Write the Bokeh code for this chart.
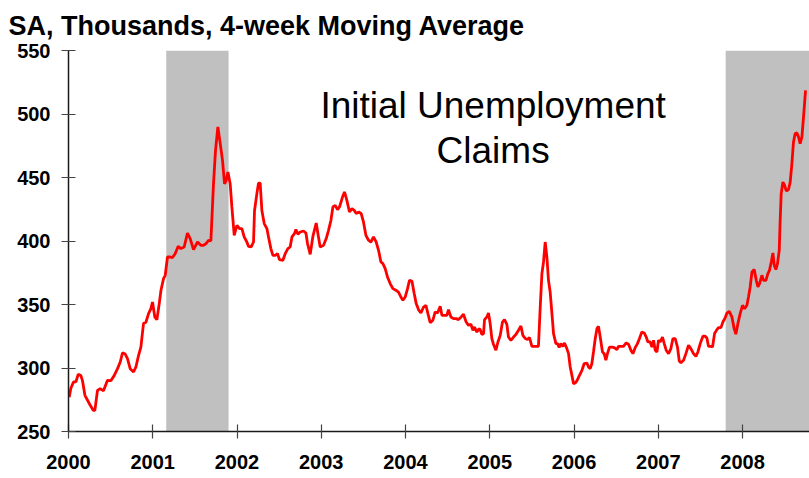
from bokeh.plotting import figure
from bokeh.models import FixedTicker, Label, Range1d, Title
from bokeh.embed import file_html
from bokeh.resources import INLINE

# ---------------- data ----------------
week_year = [
    2000.008, 2000.028, 2000.059, 2000.088, 2000.115, 2000.147, 2000.166, 2000.195, 2000.226, 2000.258,
    2000.293, 2000.313, 2000.344, 2000.376, 2000.415, 2000.463, 2000.503, 2000.542, 2000.582, 2000.614,
    2000.641, 2000.673, 2000.700, 2000.732, 2000.772, 2000.800, 2000.827, 2000.859, 2000.890, 2000.919,
    2000.950, 2000.978, 2000.997, 2001.025, 2001.049, 2001.077, 2001.097, 2001.128, 2001.148, 2001.175,
    2001.207, 2001.234, 2001.266, 2001.302, 2001.334, 2001.373, 2001.412, 2001.444, 2001.484, 2001.531,
    2001.571, 2001.602, 2001.634, 2001.662, 2001.690, 2001.721, 2001.745, 2001.773, 2001.801, 2001.828,
    2001.852, 2001.872, 2001.892, 2001.919, 2001.939, 2001.967, 2001.999, 2002.030, 2002.058, 2002.085,
    2002.117, 2002.136, 2002.168, 2002.196, 2002.208, 2002.236, 2002.255, 2002.275, 2002.295, 2002.323,
    2002.355, 2002.374, 2002.402, 2002.426, 2002.453, 2002.481, 2002.504, 2002.545, 2002.572, 2002.604,
    2002.631, 2002.652, 2002.682, 2002.699, 2002.723, 2002.750, 2002.789, 2002.818, 2002.837, 2002.869,
    2002.901, 2002.940, 2002.967, 2002.987, 2003.027, 2003.059, 2003.086, 2003.115, 2003.138, 2003.166,
    2003.193, 2003.217, 2003.252, 2003.276, 2003.304, 2003.335, 2003.364, 2003.391, 2003.415, 2003.442,
    2003.474, 2003.501, 2003.530, 2003.561, 2003.589, 2003.620, 2003.652, 2003.680, 2003.708, 2003.732,
    2003.759, 2003.786, 2003.818, 2003.850, 2003.886, 2003.917, 2003.945, 2003.969, 2003.996, 2004.024,
    2004.047, 2004.076, 2004.103, 2004.127, 2004.154, 2004.183, 2004.214, 2004.242, 2004.266, 2004.293,
    2004.325, 2004.352, 2004.380, 2004.412, 2004.432, 2004.459, 2004.491, 2004.510, 2004.539, 2004.570,
    2004.602, 2004.629, 2004.661, 2004.688, 2004.720, 2004.748, 2004.776, 2004.800, 2004.819, 2004.847,
    2004.875, 2004.887, 2004.907, 2004.926, 2004.938, 2004.966, 2004.985, 2005.005, 2005.025, 2005.044,
    2005.073, 2005.097, 2005.124, 2005.151, 2005.175, 2005.203, 2005.222, 2005.251, 2005.282, 2005.310,
    2005.341, 2005.370, 2005.393, 2005.421, 2005.448, 2005.472, 2005.500, 2005.539, 2005.578, 2005.599,
    2005.619, 2005.638, 2005.658, 2005.678, 2005.697, 2005.717, 2005.738, 2005.757, 2005.785, 2005.804,
    2005.824, 2005.844, 2005.868, 2005.887, 2005.915, 2005.935, 2005.955, 2005.975, 2005.994, 2006.014,
    2006.034, 2006.065, 2006.094, 2006.121, 2006.153, 2006.172, 2006.192, 2006.212, 2006.231, 2006.252,
    2006.272, 2006.291, 2006.311, 2006.338, 2006.358, 2006.378, 2006.397, 2006.421, 2006.450, 2006.477,
    2006.509, 2006.528, 2006.557, 2006.587, 2006.619, 2006.647, 2006.675, 2006.699, 2006.726, 2006.753,
    2006.777, 2006.805, 2006.833, 2006.857, 2006.877, 2006.904, 2006.925, 2006.944, 2006.964, 2006.984,
    2007.003, 2007.023, 2007.050, 2007.071, 2007.094, 2007.122, 2007.150, 2007.174, 2007.201, 2007.228,
    2007.249, 2007.269, 2007.300, 2007.328, 2007.359, 2007.387, 2007.418, 2007.447, 2007.470, 2007.498,
    2007.530, 2007.557, 2007.577, 2007.596, 2007.625, 2007.644, 2007.668, 2007.696, 2007.715, 2007.744,
    2007.767, 2007.795, 2007.815, 2007.842, 2007.874, 2007.901, 2007.921, 2007.945, 2007.972, 2008.000,
    2008.024, 2008.052, 2008.071, 2008.091, 2008.112, 2008.139, 2008.163, 2008.183, 2008.202, 2008.230,
    2008.249, 2008.278, 2008.301, 2008.320, 2008.341, 2008.361, 2008.376, 2008.396, 2008.415, 2008.436,
    2008.447, 2008.459, 2008.479, 2008.499, 2008.519, 2008.546, 2008.566, 2008.586, 2008.605, 2008.625,
    2008.646, 2008.665, 2008.684, 2008.705, 2008.724, 2008.748,
]

claims_4wk = [
    277, 284, 289, 289, 295, 294, 290, 278.5, 274.6, 270.6,
    266.7, 266.7, 282.4, 283.8, 282, 290.3, 290, 294, 299.5, 304.7,
    312, 311, 307.4, 299.5, 296.9, 300.8, 308.7, 316.5, 335, 336,
    342.8, 346.8, 352, 340, 338, 350.7, 361, 370.4, 373, 387.4,
    387.4, 387, 390, 395.8, 394, 395.3, 406.3, 401.9, 393.2, 399.2,
    396.6, 396.6, 398, 400.5, 400, 445, 471.4, 489.8, 476.7, 463.5,
    445, 447.8, 454.3, 445, 426.8, 404.5, 412.4, 409.8, 409.8, 403.2,
    399.2, 395.8, 395.3, 399.2, 424, 437.3, 445.6, 445.6, 424, 413.7,
    409.8, 403.2, 394, 388.7, 388.7, 390, 385.3, 384.8, 390, 394,
    395.3, 403.2, 405.8, 409, 405.3, 407.1, 407.9, 406.3, 398, 389.5,
    403.7, 414.2, 403.2, 395.3, 396.6, 401.9, 408.4, 416.3, 426.8, 428.1,
    424.7, 426.8, 434.6, 438.6, 432, 422.8, 425.5, 424.2, 421.6, 422.8,
    421.6, 415, 404.5, 400.6, 399.2, 403.2, 399.2, 392.7, 383.5, 382.2,
    378.3, 371.7, 366.5, 362.5, 361.2, 359.8, 355.9, 353.3, 355.9, 362.5,
    369, 368.5, 358.6, 350.7, 346, 343.3, 348, 349.4, 342.8, 335.7,
    337.6, 344.1, 343.3, 348.6, 341.5, 341.5, 341.5, 346, 340.2, 338.9,
    338.9, 338.1, 340.2, 342.3, 336.2, 333.6, 334.4, 329.7, 332.3, 328.3,
    331, 330.2, 326.3, 327.1, 338.1, 340.2, 343.3, 335, 323.2, 318.7,
    314, 320.5, 325.7, 336.2, 338.1, 334.4, 324.4, 321.8, 324.4, 326.3,
    329.7, 333.1, 325.7, 323.2, 322.4, 324, 317.1, 317.1, 317.1, 348,
    374.3, 383.5, 399.2, 387.4, 369, 359.8, 342.8, 327.1, 319.2, 319.2,
    316.1, 319.2, 317.1, 319.7, 315.3, 311.3, 300.8, 294.2, 287.7, 288.2,
    289.8, 294.2, 298.2, 303.5, 303.9, 300.8, 299.5, 303.5, 312.6, 323.2,
    331, 332.8, 324.4, 312.6, 311.3, 306.1, 311.3, 316.5, 316.5, 316,
    314.5, 317.1, 317.1, 317.1, 319.7, 318.7, 314, 311.3, 316, 319.2,
    323.2, 328.3, 327.6, 324.4, 320.5, 320.5, 316.5, 321.8, 314, 312.6,
    321.8, 320.5, 324.4, 319.2, 314, 311.3, 315.3, 323.2, 323.2, 316.5,
    305.5, 304.2, 306.1, 311.3, 317.9, 315.3, 311.3, 309.2, 312.6, 319.2,
    325, 325, 323.6, 317.1, 317.1, 316.5, 327.1, 330.2, 331.8, 331.8,
    336.2, 339.7, 343.3, 344.6, 340.2, 331, 326.6, 334.9, 342.8, 349.4,
    346.7, 349.4, 355.9, 363.8, 375.6, 377.5, 369, 363.8, 366.5, 373,
    369, 369, 374.3, 376.9, 383.5, 390.6, 380.9, 377.5, 382.2, 392.7,
    416.3, 437.3, 446.4, 443.9, 439.4, 440.5, 446.4, 461, 478, 484.6,
    485.1, 481.9, 476.7, 481.9, 497.6, 518.6,
]

recession_start = [2001.16, 2007.80]
recession_end = [2001.90, 2008.85]
recession_low = [250, 250]
recession_high = [550, 550]

year_ticks = [2000, 2001, 2002, 2003, 2004, 2005, 2006, 2007, 2008]
year_labels = ["2000", "2001", "2002", "2003", "2004", "2005", "2006", "2007", "2008"]
value_ticks = [250, 300, 350, 400, 450, 500, 550]

title_text = "SA, Thousands, 4-week Moving Average"
note_lines = ["Initial Unemployment", "Claims"]

n = min(len(week_year), len(claims_4wk))

# ---------------- figure ----------------
FONT = "Liberation Sans"
p = figure(width=809, height=478, output_backend="svg", toolbar_location=None,
           x_range=Range1d(2000, 2008.795), y_range=Range1d(250, 550),
           min_border_left=68, min_border_right=0, min_border_top=50, min_border_bottom=47,
           title=None)
p.background_fill_color = "white"
p.border_fill_color = "white"
p.outline_line_color = None
p.xgrid.visible = False
p.ygrid.visible = False

ttl = Title(text=title_text, align="left", offset=-60, standoff=16, vertical_align="top",
            text_font=FONT, text_font_style="bold", text_font_size="27px",
            text_color="black")
p.add_layout(ttl, "above")

p.quad(left=recession_start, right=recession_end, bottom=recession_low, top=recession_high,
       fill_color="#C0C0C0", line_color=None)
p.line(week_year[:n], claims_4wk[:n], line_color="#FF0000", line_width=2.8)

for ax in (p.xaxis[0], p.yaxis[0]):
    ax.axis_line_color = "#1a1a1a"
    ax.axis_line_width = 1.5
    ax.major_tick_line_color = "#444444"
    ax.major_tick_line_width = 1.2
    ax.major_tick_in = 7
    ax.major_tick_out = 7
    ax.minor_tick_line_color = None
    ax.major_label_text_font = FONT
    ax.major_label_text_font_style = "bold"
    ax.major_label_text_font_size = "20px"
    ax.major_label_text_color = "black"

p.xaxis.ticker = FixedTicker(ticks=year_ticks)
p.xaxis.major_label_overrides = {t: l for t, l in zip(year_ticks, year_labels)}
p.xaxis.major_label_standoff = 16
p.yaxis.ticker = FixedTicker(ticks=value_ticks)
p.yaxis.major_label_standoff = 11

# chart annotation
p.add_layout(Label(x=2005.04, y=507, text=note_lines[0], text_font=FONT,
                   text_font_size="37px", text_color="black",
                   text_align="center", text_baseline="alphabetic"))
p.add_layout(Label(x=2005.04, y=471, text=note_lines[1], text_font=FONT,
                   text_font_size="37px", text_color="black",
                   text_align="center", text_baseline="alphabetic"))

open("out.html", "w").write(file_html(p, INLINE))
